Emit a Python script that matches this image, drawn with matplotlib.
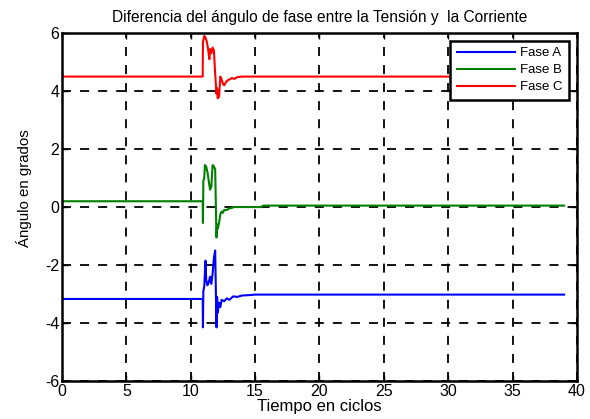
import matplotlib
matplotlib.use("Agg")
import matplotlib.pyplot as plt

plt.rcParams['font.family'] = ['Liberation Sans', 'DejaVu Sans']
plt.rcParams['axes.unicode_minus'] = False

title = "Diferencia del ángulo de fase entre la Tensión y  la Corriente"
xlabel = "Tiempo en ciclos"
ylabel = "Ángulo en grados"
labels = ["Fase A", "Fase B", "Fase C"]

t_a = [0, 10.93, 10.95, 10.98, 11.05, 11.15, 11.2, 11.3, 11.4, 11.5, 11.6, 11.7, 11.8, 11.9,
       12.0, 12.05, 12.1, 12.2, 12.3, 12.4, 12.6, 12.8, 13.0, 13.3, 13.6, 14.0, 14.5, 15.0, 39]
fase_a = [-3.17, -3.17, -4.15, -2.9, -2.75, -1.85, -2.5, -2.7, -2.6, -2.4, -2.65, -2.3, -1.75, -1.5,
          -4.15, -3.1, -3.65, -3.3, -3.45, -3.2, -3.25, -3.15, -3.2, -3.08, -3.1, -3.05, -3.04, -3.02, -3.02]

t_b = [0, 10.93, 10.95, 10.98, 11.05, 11.1, 11.2, 11.3, 11.4, 11.5, 11.6, 11.7, 11.8, 11.9,
       12.0, 12.05, 12.1, 12.2, 12.3, 12.4, 12.5, 12.6, 12.8, 13.0, 13.4, 14.0, 15.5, 15.6, 16.0, 39]
fase_b = [0.2, 0.2, -0.55, 0.9, 1.0, 1.45, 1.4, 1.2, 0.9, 0.6, 0.7, 1.45, 1.4, 1.3,
          -1.05, -0.6, -0.75, -0.55, -0.25, -0.15, -0.2, -0.1, -0.1, -0.05, 0.0, 0.0, 0.0, 0.05, 0.05, 0.05]

t_c = [0, 10.93, 10.95, 11.05, 11.15, 11.25, 11.35, 11.45, 11.5, 11.6, 11.7, 11.8, 11.9, 12.0,
       12.05, 12.1, 12.15, 12.2, 12.3, 12.4, 12.5, 12.6, 12.8, 13.0, 13.2, 13.4, 13.6, 14.0, 39]
fase_c = [4.5, 4.5, 5.7, 5.9, 5.85, 5.7, 5.45, 5.1, 5.45, 5.3, 5.5, 5.4, 4.6, 3.9,
          4.1, 3.75, 3.95, 3.8, 4.5, 4.4, 4.25, 4.2, 4.35, 4.4, 4.45, 4.42, 4.48, 4.5, 4.5]

xticks = [0, 5, 10, 15, 20, 25, 30, 35, 40]
yticks = [-6, -4, -2, 0, 2, 4, 6]

fig = plt.figure(figsize=(5.9, 4.19), dpi=100)
ax = fig.add_axes([0.105, 0.0907, 0.873, 0.8303])

ax.plot(t_a, fase_a, color=(0, 0, 1), lw=1.5, label=labels[0])
ax.plot(t_b, fase_b, color=(0, 0.5, 0), lw=1.5, label=labels[1])
ax.plot(t_c, fase_c, color=(1, 0, 0), lw=1.5, label=labels[2])

ax.set_xlim(0, 40)
ax.set_ylim(-6, 6)
ax.set_xticks(xticks)
ax.set_yticks(yticks)
ax.tick_params(direction='in', length=4, width=1.0, labelsize=11.5, top=True, right=True, pad=2)
ax.grid(True, color='black', linestyle=(0, (5, 5)), linewidth=1.3)
for s in ax.spines.values():
    s.set_linewidth(1.8)

ax.set_title(title, fontsize=11.2, pad=8)
ax.set_xlabel(xlabel, fontsize=12, labelpad=0)
ax.set_ylabel(ylabel, fontsize=10.8)
ax.yaxis.set_label_coords(-0.058, 0.555)

leg = ax.legend(loc='upper right', fontsize=9.5, frameon=True, fancybox=False,
                edgecolor='black', framealpha=1, borderaxespad=0.57,
                handlelength=4.4, handletextpad=0.4, labelspacing=0.35, borderpad=0.5)
leg.get_frame().set_linewidth(1.8)

fig.savefig("out.png", dpi=100)
